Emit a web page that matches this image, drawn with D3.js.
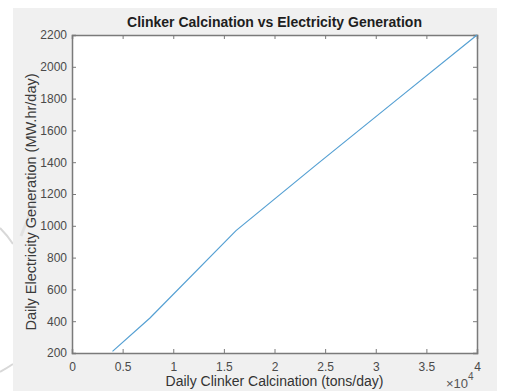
<!DOCTYPE html>
<html><head><meta charset="utf-8">
<script src="https://cdn.jsdelivr.net/npm/d3@7"></script>
<style>
html,body{margin:0;padding:0;background:#fff;}
svg{display:block;font-family:"Liberation Sans",Arial,Helvetica,sans-serif;}
</style></head>
<body>
<svg id="chart" width="506" height="391"></svg>
<script>
// Data
const clinker = [4000, 7700, 16200, 24000, 32000, 40000];      // tons/day
const electricity = [210, 420, 970, 1377, 1789, 2200];          // MW.hr/day
const xTicks = [0, 0.5, 1, 1.5, 2, 2.5, 3, 3.5, 4];              // x 10^4
const yTicks = [200, 400, 600, 800, 1000, 1200, 1400, 1600, 1800, 2000, 2200];
const titleText = "Clinker Calcination vs Electricity Generation";
const xLabel = "Daily Clinker Calcination (tons/day)";
const yLabel = "Daily Electricity Generation (MW.hr/day)";

const svg = d3.select("#chart");
// faint watermark strokes on the left margin
svg.append("path").attr("d","M0,228 Q8,236 13,244").attr("fill","none").attr("stroke","#d8d8d8").attr("stroke-width",2);
svg.append("path").attr("d","M0,372 Q7,368 13,364").attr("fill","none").attr("stroke","#d8d8d8").attr("stroke-width",2);
// figure background
svg.append("rect").attr("x",13).attr("y",8).attr("width",484).attr("height",383).attr("fill","#f0f0f0");
svg.append("path").attr("d","M21,236 L36,198").attr("fill","none").attr("stroke","#e2e2e2").attr("stroke-width",3);

const L=72, R=477, T=35, B=353;
const x = d3.scaleLinear().domain([0,4]).range([L,R]);
const y = d3.scaleLinear().domain([200,2200]).range([B,T]);

svg.append("rect").attr("x",L).attr("y",T).attr("width",R-L).attr("height",B-T).attr("fill","#fff");

const axCol="#7a7a7a", txtCol="#4a4a4a";
// axes
const gx = svg.append("g").attr("transform",`translate(0,${B})`)
  .call(d3.axisBottom(x).tickValues(xTicks).tickSize(-4).tickPadding(9).tickFormat(d3.format("")));
const gxTop = svg.append("g").attr("transform",`translate(0,${T})`)
  .call(d3.axisTop(x).tickValues(xTicks).tickSize(-4).tickFormat(""));
const gy = svg.append("g").attr("transform",`translate(${L},0)`)
  .call(d3.axisLeft(y).tickValues(yTicks).tickSize(-4).tickPadding(5).tickFormat(d3.format("d")));
const gyR = svg.append("g").attr("transform",`translate(${R},0)`)
  .call(d3.axisRight(y).tickValues(yTicks).tickSize(-4).tickFormat(""));
[gx,gxTop,gy,gyR].forEach(g=>{
  g.select(".domain").attr("stroke",axCol).attr("stroke-width",1.5);
  g.selectAll(".tick line").attr("stroke",axCol);
  g.selectAll(".tick text").attr("fill",txtCol).attr("font-size","12px").attr("font-family","Liberation Sans, Arial, sans-serif");
});

// line
const pts = clinker.map((c,i)=>[c/1e4, electricity[i]]);
svg.append("path").datum(pts)
  .attr("fill","none").attr("stroke","#55a0d3").attr("stroke-width",1.2)
  .attr("d", d3.line().x(d=>x(d[0])).y(d=>y(d[1])));

// title
svg.append("text").attr("x",(L+R)/2).attr("y",27).attr("text-anchor","middle")
  .attr("font-weight","bold").attr("font-size","14px").attr("fill","#1e1e1e").text(titleText);
// x label
svg.append("text").attr("x",(L+R)/2).attr("y",386).attr("text-anchor","middle")
  .attr("font-size","14px").attr("fill","#333").text(xLabel);
// y label
svg.append("text").attr("transform",`translate(36,${(T+B)/2+8}) rotate(-90)`).attr("text-anchor","middle")
  .attr("font-size","14.5px").attr("fill","#3a3a3a").text(yLabel);
// exponent
const ex = svg.append("text").attr("x",446).attr("y",388).attr("font-size","13px").attr("fill","#555");
ex.append("tspan").text("\u00d710");
ex.append("tspan").attr("dy",-8).attr("font-size","10px").text("4");
</script>
</body></html>
